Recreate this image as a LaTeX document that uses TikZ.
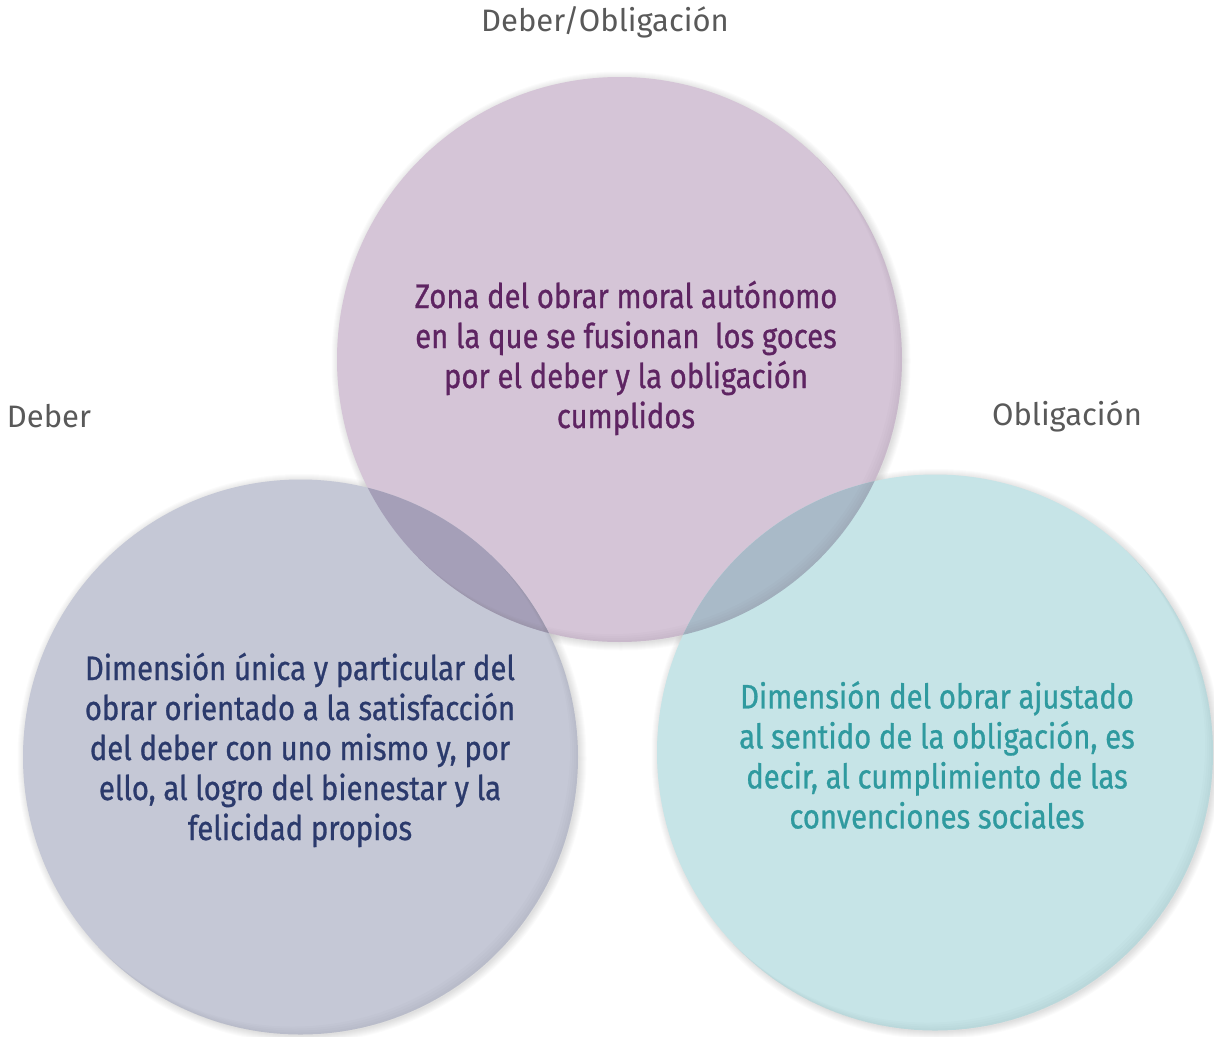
\documentclass[tikz,border=0pt]{standalone}
\usepackage{fontspec}
\setmainfont{Fira Sans}
\newfontfamily\bodyfont[FakeStretch=0.86, FakeBold=0.8]{Fira Sans}
\definecolor{topfill}{HTML}{D5C5D7}
\definecolor{leftfill}{HTML}{C5C8D6}
\definecolor{rightfill}{HTML}{C6E4E7}
\definecolor{ovTL}{HTML}{A59FB8}
\definecolor{ovTR}{HTML}{A9BAC8}
\definecolor{toptext}{HTML}{5E2462}
\definecolor{lefttext}{HTML}{2B3A6C}
\definecolor{righttext}{HTML}{2F9A9F}
\definecolor{labeltext}{HTML}{595959}
\tikzset{
  bubble/.style={circle, inner sep=0pt, draw=none},
  bubbletext/.style={align=center, font=\bodyfont\fontsize{34}{40}\selectfont},
  setlabel/.style={text=labeltext, font=\fontsize{31}{34}\selectfont, inner sep=0pt}
}
\newcommand{\outershadow}[2]{%
  \foreach \i in {0,...,7} {\fill[black, opacity=0.015] ($(#1)+(1.5,1.5)$) circle[radius=#2pt+\i pt];}}
\newcommand{\innershadow}[2]{%
  \begin{scope}
    \clip (#1) circle[radius=#2pt];
    \foreach \d in {2,4,6,8} {\fill[black, opacity=0.012, even odd rule] (#1) circle[radius=#2pt+40pt] ($(#1)+(-\d,-\d)$) circle[radius=#2pt];}
  \end{scope}}
\usetikzlibrary{calc}
\begin{document}
\begin{tikzpicture}[x=1pt,y=-1pt]
\useasboundingbox (0,0) rectangle (1214,1036);
\coordinate (ct) at (619.5,359.5);
\coordinate (cl) at (300.5,757);
\coordinate (cr) at (935,752.5);
% outer shadows
\outershadow{ct}{282.5}
\outershadow{cl}{277.5}
\outershadow{cr}{278}
% circles
\node[bubble, fill=topfill, minimum size=565pt] (top) at (ct) {};
\node[bubble, fill=leftfill, minimum size=555pt] (left) at (cl) {};
\node[bubble, fill=rightfill, minimum size=556pt] (right) at (cr) {};
% overlaps
\begin{scope}
  \clip (ct) circle[radius=282.5pt];
  \fill[ovTL] (cl) circle[radius=277.5pt];
  \fill[ovTR] (cr) circle[radius=278pt];
\end{scope}
% inner rims
\innershadow{ct}{282.5}
\innershadow{cl}{277.5}
\innershadow{cr}{278}
% texts
\node[bubbletext, text=toptext] (ttop) at (626,358)
  {Zona del obrar moral autónomo\\en la que se fusionan\ \ los goces\\por el deber y la obligación\\cumplidos};
\node[bubbletext, text=lefttext] (tleft) at (300,750)
  {Dimensión única y particular del\\obrar orientado a la satisfacción\\del deber con uno mismo y, por\\ello, al logro del bienestar y la\\felicidad propios};
\node[bubbletext, text=righttext] (tright) at (937,755)
  {Dimensión del obrar ajustado\\al sentido de la obligación, es\\decir, al cumplimiento de las\\convenciones sociales};
% labels
\node[setlabel] (ltop) at (605,22) {Deber/Obligación};
\node[setlabel] (lleft) at (49,416) {Deber};
\node[setlabel] (lright) at (1067,416) {Obligación};
\end{tikzpicture}
\end{document}
